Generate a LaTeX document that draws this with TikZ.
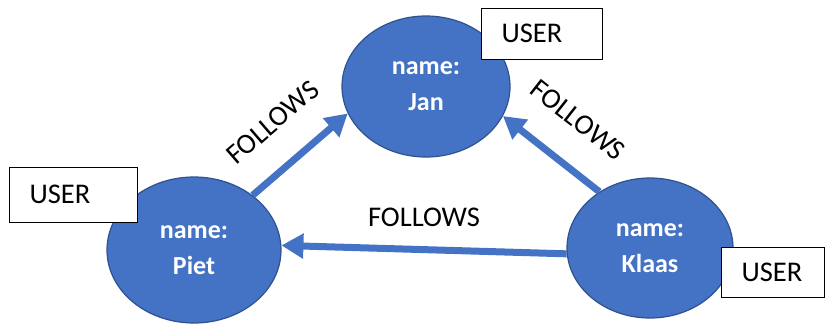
\documentclass[tikz,border=0pt]{standalone}
\usepackage{fontspec}
\setmainfont{Carlito}
\usetikzlibrary{shapes,arrows.meta,positioning}

\definecolor{nodeblue}{HTML}{4472C4}
\definecolor{nodeedge}{HTML}{2F528F}

\begin{document}
\begin{tikzpicture}[x=1pt, y=-1pt,
    person/.style={draw=nodeedge, line width=1.2pt, fill=nodeblue, ellipse, inner sep=0pt,
        text=white, align=center, font=\fontsize{26pt}{36pt}\selectfont\bfseries},
    userbox/.style={draw=black, line width=0.9pt, fill=white, rectangle, inner xsep=20.5pt,
        align=left, font=\fontsize{28.5pt}{32pt}\selectfont},
    follows/.style={draw=nodeblue, line width=7pt, -{Triangle[length=22pt, width=24pt]}},
    lbl/.style={font=\fontsize{28.5pt}{32pt}\selectfont}]
        \useasboundingbox (0,0) rectangle (825,325);

        \node [person, minimum width=168pt, minimum height=141pt] (jan) at (426,86.5) {name:\\Jan};
        \node [person, minimum width=174pt, minimum height=146pt] (piet) at (194,250) {name:\\Piet};
        \node [person, minimum width=166pt, minimum height=140pt] (klaas) at (650,248) {name:\\Klaas};

        \draw [follows] (piet.43) -- node[lbl, sloped, above=26pt]{FOLLOWS} (jan.199);
        \draw [follows] (klaas.132) -- node[lbl, sloped, above=27pt]{FOLLOWS} (jan.339);
        \draw [follows] (klaas.184) -- node[lbl, above=16pt]{FOLLOWS} (piet.3);

        % labels of the nodes
        \node [userbox, text width=80pt, minimum height=51pt] (userjan) at (541.5,33.5) {USER};
        \node [userbox, text width=87pt, minimum height=55pt] (userpiet) at (73,194.5) {USER};
        \node [userbox, text width=62pt, minimum height=50pt] (userklaas) at (772.5,272) {USER};
    \end{tikzpicture}
\end{document}
